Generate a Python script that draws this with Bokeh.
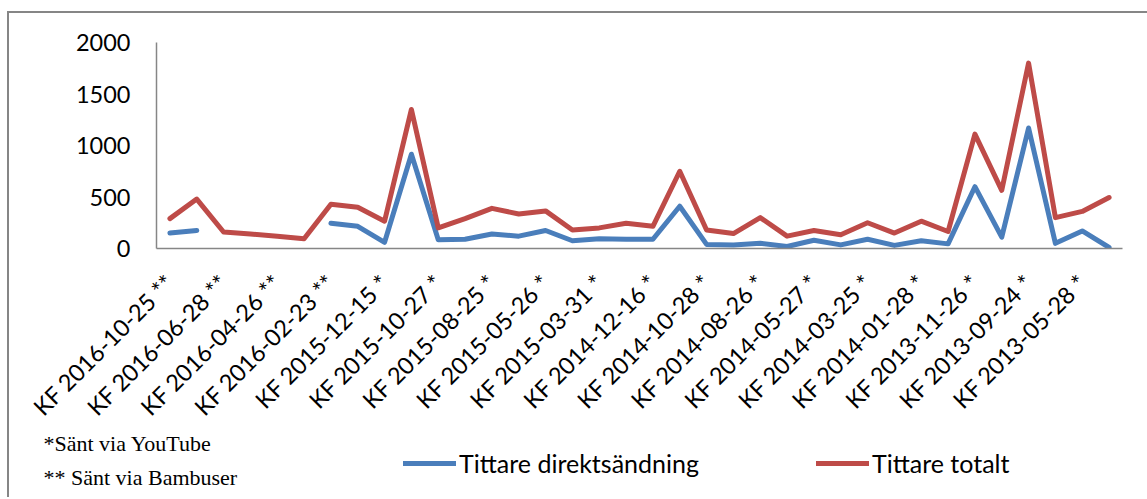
import math
from bokeh.plotting import figure
from bokeh.layouts import column
from bokeh.models import (Range1d, FixedTicker, Legend, LegendItem, Label,
                          ColumnDataSource)
from bokeh.embed import file_html
from bokeh.resources import INLINE

# ---- data ----
tick_labels = [
    "KF 2016-10-25 **", "KF 2016-06-28 **", "KF 2016-04-26 **", "KF 2016-02-23 **",
    "KF 2015-12-15 *", "KF 2015-10-27 *", "KF 2015-08-25 *", "KF 2015-05-26 *",
    "KF 2015-03-31 *", "KF 2014-12-16 *", "KF 2014-10-28 *", "KF 2014-08-26 *",
    "KF 2014-05-27 *", "KF 2014-03-25 *", "KF 2014-01-28 *", "KF 2013-11-26 *",
    "KF 2013-09-24 *", "KF 2013-05-28 *",
]
n_points = 36
x_index = list(range(n_points))
nan = float("nan")
tittare_direkt = [150, 175, nan, nan, nan, nan, 245, 215, 60, 915, 85, 90,
                  140, 120, 175, 75, 95, 90, 90, 410, 40, 35, 50, 20,
                  80, 35, 90, 30, 75, 45, 600, 110, 1170, 50, 170, 10]
tittare_totalt = [290, 480, 160, 140, 120, 95, 430, 400, 265, 1350, 200, 290,
                  390, 335, 365, 180, 200, 245, 215, 750, 180, 145, 300, 120,
                  175, 133, 250, 150, 265, 165, 1110, 565, 1800, 300, 360, 495]
y_ticks = [0, 500, 1000, 1500, 2000]
series_names = ["Tittare direktsändning", "Tittare totalt"]
footnotes = ["*Sänt via YouTube", "** Sänt via Bambuser"]

BLUE = "#4A7EBB"
RED = "#BE4B48"
GRAY = "#868686"
SANS = "Lato"
SERIF = "Liberation Serif"
FS = "23.5px"

W = 1138
H1, H2 = 440, 67
ML, MR, MT, MB = 147, 25, 29, 205
OVERLAP = 23

# ---- main chart ----
p = figure(width=W, height=H1, output_backend="svg", toolbar_location=None,
           x_range=Range1d(-0.5, n_points - 0.5), y_range=Range1d(0, 2000),
           min_border_left=ML, min_border_right=MR, min_border_top=MT,
           min_border_bottom=MB)
p.frame_align = False
p.outline_line_color = None
p.background_fill_color = "white"
p.border_fill_color = "white"
p.xgrid.grid_line_color = None
p.ygrid.grid_line_color = None

src = ColumnDataSource(dict(x=x_index, d=tittare_direkt, t=tittare_totalt))
line_kw = dict(line_width=5, line_cap="round", line_join="round")
p.line("x", "d", source=src, line_color=BLUE, **line_kw)
p.line("x", "t", source=src, line_color=RED, **line_kw)

ya = p.yaxis[0]
ya.ticker = FixedTicker(ticks=y_ticks)
ya.axis_line_color = GRAY
ya.axis_line_width = 1.5
ya.major_tick_line_color = None
ya.minor_tick_line_color = None
ya.major_tick_out = 0
ya.major_tick_in = 0
ya.major_label_standoff = 26
ya.major_label_text_font = SANS
ya.major_label_text_font_size = FS
ya.major_label_text_color = "black"

xa = p.xaxis[0]
even_ticks = x_index[0::2]
xa.ticker = FixedTicker(ticks=even_ticks)
xa.major_label_overrides = {t: lab for t, lab in zip(even_ticks, tick_labels)}
xa.major_label_orientation = math.pi / 4
xa.axis_line_color = GRAY
xa.axis_line_width = 1.5
xa.major_tick_line_color = None
xa.minor_tick_line_color = None
xa.major_tick_out = 0
xa.major_tick_in = 0
xa.major_label_standoff = 30
xa.major_label_text_font = SANS
xa.major_label_text_font_size = FS
xa.major_label_text_color = "black"

# ---- bottom strip: footnotes + legend ----
q = figure(width=W, height=H2, output_backend="svg", toolbar_location=None,
           x_range=Range1d(0, W), y_range=Range1d(0, H2),
           x_axis_type=None, y_axis_type=None, min_border=0)
q.frame_align = False
q.outline_line_color = None
q.xgrid.grid_line_color = None
q.ygrid.grid_line_color = None
q.background_fill_alpha = 0
q.border_fill_alpha = 0
q.styles = {"margin-top": f"-{OVERLAP}px"}

# legend-key renderers: same series and styles, hidden in this strip
kb = q.line("x", "d", source=src, line_color=BLUE, visible=False, **line_kw)
kr = q.line("x", "t", source=src, line_color=RED, visible=False, **line_kw)

for i, txt in enumerate(footnotes):
    q.add_layout(Label(x=34, y=54 - i * 34, x_units="screen", y_units="screen",
                       text=txt, text_font=SERIF, text_font_size="22px",
                       text_color="black", text_baseline="middle"))

legend = Legend(items=[LegendItem(label=series_names[0], renderers=[kb]),
                       LegendItem(label=series_names[1], renderers=[kr])],
                orientation="horizontal", location=(394, 19),
                glyph_width=53, glyph_height=26, label_standoff=3,
                spacing=117, padding=0, margin=0,
                border_line_color=None, background_fill_alpha=0,
                inactive_fill_alpha=0,
                label_text_font=SANS, label_text_font_size="25px",
                label_text_color="black", label_text_baseline="middle")
q.add_layout(legend, "center")

layout = column(p, q, spacing=0,
                styles={"border-top": "2px solid #868686",
                        "border-left": "2px solid #868686",
                        "margin-left": "7px", "margin-top": "11px"})

open("out.html", "w").write(file_html(layout, INLINE))
